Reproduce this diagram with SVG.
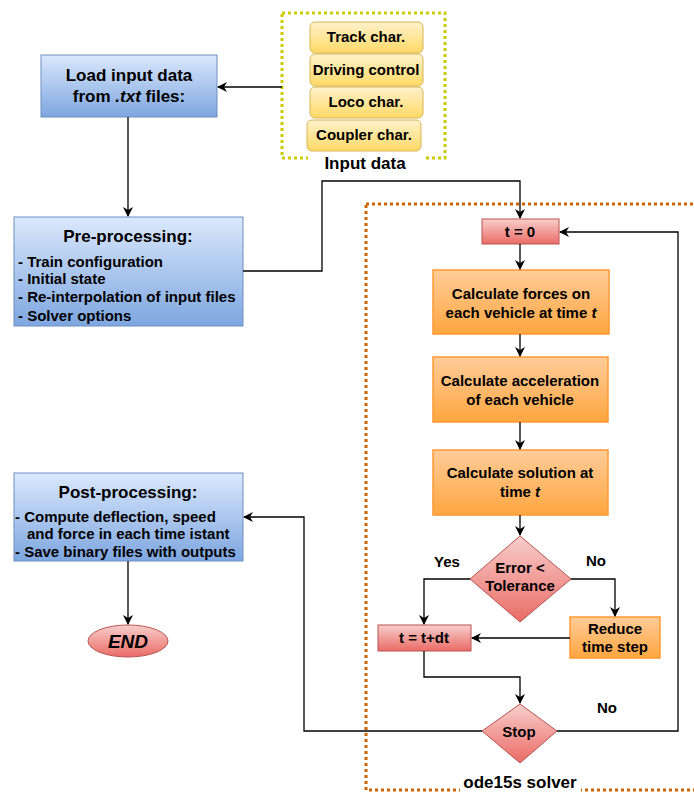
<svg xmlns="http://www.w3.org/2000/svg" width="694" height="793" viewBox="0 0 694 793">
<defs>
<linearGradient id="gBlue" x1="0" y1="0" x2="0" y2="1"><stop offset="0" stop-color="#dae8fc"/><stop offset="1" stop-color="#7ea6e0"/></linearGradient>
<linearGradient id="gOrange" x1="0" y1="0" x2="0" y2="1"><stop offset="0" stop-color="#ffcc99"/><stop offset="1" stop-color="#ffa640"/></linearGradient>
<linearGradient id="gRed" x1="0" y1="0" x2="0" y2="1"><stop offset="0" stop-color="#f8cecc"/><stop offset="1" stop-color="#ea6b66"/></linearGradient>
<linearGradient id="gYellow" x1="0" y1="0" x2="0" y2="1"><stop offset="0" stop-color="#fff2cc"/><stop offset="1" stop-color="#ffd966"/></linearGradient>
<marker id="arr" viewBox="0 0 10 10" refX="9" refY="5" markerWidth="10" markerHeight="10" markerUnits="userSpaceOnUse" orient="auto">
<path d="M0,0 L10,5 L0,10 L3,5 Z" fill="#000"/>
</marker>
</defs>
<style>
text{font-family:"Liberation Sans",Arial,sans-serif;font-weight:bold;fill:#000;}
.t12{font-size:15px;text-anchor:middle;}
.t15{font-size:17px;text-anchor:middle;}
.l12{font-size:15px;text-anchor:start;}
.blue{fill:url(#gBlue);stroke:#6c8ebf;stroke-width:1;}
.orange{fill:url(#gOrange);stroke:#ff9933;stroke-width:1.5;}
.red{fill:url(#gRed);stroke:#b85450;stroke-width:1;}
.yellow{fill:url(#gYellow);stroke:#d6b656;stroke-width:1;}
.conn{fill:none;stroke:#000;stroke-width:1.3;}
</style>
<rect width="694" height="793" fill="#fff"/>

<g id="input-data-group">
<rect x="282" y="13" width="163" height="145" fill="none" stroke="#cccc00" stroke-width="3" stroke-dasharray="3 3"/>
<rect x="308" y="155" width="118" height="17" fill="#fff"/>
<text class="t15" x="365" y="169">Input data</text>
</g>
<g id="track"><rect class="yellow" x="310" y="22" width="113" height="31" rx="5"/><text class="t12" x="366" y="42">Track char.</text></g>
<g id="driving"><rect class="yellow" x="310" y="54" width="113" height="32" rx="5"/><text class="t12" x="366" y="75">Driving control</text></g>
<g id="loco"><rect class="yellow" x="310" y="87" width="113" height="31" rx="5"/><text class="t12" x="366" y="107">Loco char.</text></g>
<g id="coupler"><rect class="yellow" x="307" y="120" width="114" height="31" rx="5"/><text class="t12" x="364" y="140">Coupler char.</text></g>

<g id="solver-group">
<rect x="366" y="204" width="340" height="586" fill="none" stroke="#cc6600" stroke-width="3" stroke-dasharray="3 3"/>
<rect x="460" y="775" width="121" height="18" fill="#fff"/>
<text class="t15" x="520" y="788">ode15s solver</text>
</g>

<g id="load"><rect class="blue" x="41" y="55" width="176" height="62"/>
<text class="t15" x="129" y="81">Load input data</text>
<text class="t15" x="129" y="102">from <tspan font-style="italic">.txt</tspan> files:</text></g>

<g id="pre"><rect class="blue" x="14" y="217" width="229" height="109"/>
<text class="t15" x="128" y="242">Pre-processing:</text>
<text class="l12" x="18" y="267">- Train configuration</text>
<text class="l12" x="18" y="284">- Initial state</text>
<text class="l12" x="18" y="302">- Re-interpolation of input files</text>
<text class="l12" x="18" y="321">- Solver options</text></g>

<g id="post"><rect class="blue" x="14" y="473" width="229" height="88"/>
<text class="t15" x="128" y="498">Post-processing:</text>
<text class="l12" x="15" y="522">- Compute deflection, speed</text>
<text class="l12" x="27" y="539">and force in each time istant</text>
<text class="l12" x="15" y="557">- Save binary files with outputs</text></g>

<g id="end"><ellipse cx="128" cy="641" rx="40" ry="16" class="red"/>
<text x="128" y="648" font-size="19" font-style="italic" text-anchor="middle">END</text></g>

<g id="t0"><rect class="red" x="482" y="219" width="77" height="25"/><text class="t12" x="520" y="237">t = 0</text></g>
<g id="forces"><rect class="orange" x="433" y="270" width="176" height="64"/>
<text class="t12" x="521" y="299">Calculate forces on</text>
<text class="t12" x="521" y="318">each vehicle at time <tspan font-style="italic">t</tspan></text></g>
<g id="accel"><rect class="orange" x="433" y="357" width="175" height="65"/>
<text class="t12" x="520" y="386">Calculate acceleration</text>
<text class="t12" x="520" y="405">of each vehicle</text></g>
<g id="solution"><rect class="orange" x="433" y="450" width="175" height="65"/>
<text class="t12" x="520" y="478">Calculate solution at</text>
<text class="t12" x="520" y="497">time <tspan font-style="italic">t</tspan></text></g>
<g id="error"><polygon class="red" points="520,536 571,579 520,622 470,579"/>
<text class="t12" x="520" y="573">Error &lt;</text>
<text class="t12" x="520" y="591">Tolerance</text></g>
<g id="tdt"><rect class="red" x="378" y="625" width="93" height="26"/><text class="t12" x="424" y="643">t = t+dt</text></g>
<g id="reduce"><rect class="orange" x="570" y="617" width="90" height="41"/>
<text class="t12" x="615" y="634">Reduce</text>
<text class="t12" x="615" y="652">time step</text></g>
<g id="stop"><polygon class="red" points="520,704 557,731 520,763 482,731"/>
<text class="t12" x="519" y="737">Stop</text></g>

<g id="connectors">
<path class="conn" d="M282,87 L218,87" marker-end="url(#arr)"/>
<path class="conn" d="M128,117 L128,216" marker-end="url(#arr)"/>
<path class="conn" d="M243,271 L322,271 L322,181 L520,181 L520,218" marker-end="url(#arr)"/>
<path class="conn" d="M520,244 L520,269" marker-end="url(#arr)"/>
<path class="conn" d="M520,334 L520,356" marker-end="url(#arr)"/>
<path class="conn" d="M520,422 L520,449" marker-end="url(#arr)"/>
<path class="conn" d="M520,515 L520,535" marker-end="url(#arr)"/>
<path class="conn" d="M470,579 L424,579 L424,624" marker-end="url(#arr)"/>
<path class="conn" d="M571,579 L615,579 L615,616" marker-end="url(#arr)"/>
<path class="conn" d="M570,638 L472,638" marker-end="url(#arr)"/>
<path class="conn" d="M424,651 L424,677 L520,677 L520,703" marker-end="url(#arr)"/>
<path class="conn" d="M557,731 L678,731 L678,232 L560,232" marker-end="url(#arr)"/>
<path class="conn" d="M482,731 L304,731 L304,517 L244,517" marker-end="url(#arr)"/>
<path class="conn" d="M128,561 L128,624" marker-end="url(#arr)"/>
<text class="t12" x="447" y="567">Yes</text>
<text class="t12" x="596" y="566">No</text>
<text class="t12" x="607" y="713">No</text>
</g>
</svg>
